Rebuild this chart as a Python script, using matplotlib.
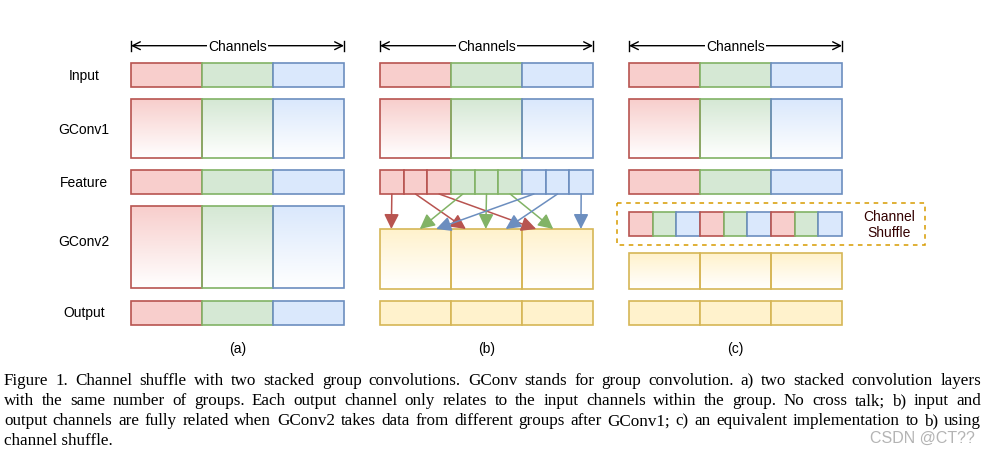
import numpy as np
import matplotlib
matplotlib.use("Agg")
import matplotlib.pyplot as plt
from matplotlib.patches import Rectangle
from matplotlib.colors import to_rgb

# --- content -------------------------------------------------------------
row_labels = ["Input", "GConv1", "Feature", "GConv2", "Output"]
panel_labels = ["(a)", "(b)", "(c)"]
group_fill = ["#f8cecc", "#d5e8d4", "#dae8fc"]     # red, green, blue groups
group_edge = ["#b85450", "#82b366", "#6c8ebf"]
yellow_fill, yellow_edge = "#fff2cc", "#d6b656"
shuffle_order = [0, 1, 2, 0, 1, 2, 0, 1, 2]         # channel groups after shuffle
# (b) cross connections: source sub-channel -> (target group, position inside group)
arrow_src = [0, 1, 2, 3, 4, 5, 6, 7, 8]
arrow_dst_group = [0, 1, 2, 0, 1, 2, 0, 1, 2]
arrow_dst_frac = [0.16, 0.21, 0.20, 0.56, 0.49, 0.44, 0.79, 0.77, 0.83]
caption = [
    "Figure 1. Channel shuffle with two stacked group convolutions.  GConv stands for group convolution.  a) two stacked convolution layers",
    "with the same number of groups.  Each output channel only relates to the input channels within the group.  No cross talk; b) input and",
    "output channels are fully related when GConv2 takes data from different groups after GConv1; c) an equivalent implementation to b) using",
    "channel shuffle.",
]

# --- layout (pixels) -----------------------------------------------------
W, H = 987, 456
panel_x = [131, 380, 629]
panel_w = 213
rows = {"Input": (64, 88), "GConv1": (100, 159), "Feature": (171, 195),
        "GConv2": (207, 289), "Output": (302, 326)}
sans = ["Liberation Sans", "DejaVu Sans"]

fig = plt.figure(figsize=(W / 100, H / 100), dpi=100)
ax = fig.add_axes([0, 0, 1, 1])
ax.set_xlim(0, W)
ax.set_ylim(H, 0)
ax.axis("off")


def box(x, y0, y1, w, fill, edge, grad=False):
    if grad:
        c = np.array(to_rgb(fill))
        t = np.linspace(0, 1, 64)[:, None, None]
        img = c * (1 - t) + np.ones(3) * t
        img = np.repeat(img, 2, axis=1)
        ax.imshow(img, extent=(x, x + w, y1, y0), aspect="auto", zorder=1,
                  interpolation="bilinear")
        ax.add_patch(Rectangle((x, y0), w, y1 - y0, fill=False, ec=edge, lw=1.2, zorder=3))
    else:
        ax.add_patch(Rectangle((x, y0), w, y1 - y0, fc=fill, ec=edge, lw=1.2, zorder=3))


def group_row(px, name, grad=False, fills=group_fill, edges=group_edge):
    y0, y1 = rows[name]
    gw = panel_w / 3
    for g in range(3):
        box(px + g * gw, y0, y1, gw, fills[g], edges[g], grad)


for k, px in enumerate(panel_x):
    # channels dimension arrow
    ya = 46.7
    ax.annotate("", xy=(px, ya), xytext=(px + panel_w, ya),
                arrowprops=dict(arrowstyle="<->", lw=1, color="black",
                                mutation_scale=14, shrinkA=0, shrinkB=0))
    ax.plot([px, px], [ya - 5, ya + 5], color="black", lw=1)
    ax.plot([px + panel_w, px + panel_w], [ya - 5, ya + 5], color="black", lw=1)
    ax.text(px + panel_w / 2, ya, "Channels", ha="center", va="center", fontsize=10,
            family=sans, bbox=dict(fc="white", ec="none", pad=0.5))
    ax.text(px + panel_w / 2, 349, panel_labels[k], ha="center", va="center",
            fontsize=10, family=sans)

    group_row(px, "Input")
    group_row(px, "GConv1", grad=True)

    if k == 0:
        group_row(px, "Feature")
        group_row(px, "GConv2", grad=True)
        group_row(px, "Output")
    elif k == 1:
        y0, y1 = rows["Feature"]
        sw = panel_w / 9
        for i in range(9):
            g = i // 3
            box(px + i * sw, y0, y1, sw, group_fill[g], group_edge[g])
        gy0, gy1 = 230, 290
        for g in range(3):
            box(px + g * panel_w / 3, gy0, gy1, panel_w / 3, yellow_fill, yellow_edge, True)
        for s, dg, fr in zip(arrow_src, arrow_dst_group, arrow_dst_frac):
            x0 = px + (s + 0.5) * sw
            x1 = px + (dg + fr) * panel_w / 3
            col = group_edge[s // 3]
            ax.annotate("", xy=(x1, gy0), xytext=(x0, y1),
                        arrowprops=dict(arrowstyle="-|>,head_length=0.6,head_width=0.3",
                                        lw=1.1, color=col,
                                        mutation_scale=15, shrinkA=0, shrinkB=0),
                        zorder=4)
        y0, y1 = rows["Output"]
        for g in range(3):
            box(px + g * panel_w / 3, y0, y1, panel_w / 3, yellow_fill, yellow_edge)
    else:
        group_row(px, "Feature")
        sy0, sy1 = 212.7, 236.7
        sw = panel_w / 9
        for i, g in enumerate(shuffle_order):
            box(px + i * sw, sy0, sy1, sw, group_fill[g], group_edge[g])
        ax.add_patch(Rectangle((616.7, 204.3), 925 - 616.7, 246 - 204.3, fill=False,
                               ec="#d79b00", lw=1.1, ls=(0, (3, 3)), zorder=3))
        ax.text(889, 225, "Channel\nShuffle", ha="center", va="center", fontsize=10,
                family=sans, color="#330000", linespacing=1.2)
        gy0, gy1 = 254.3, 290
        for g in range(3):
            box(px + g * panel_w / 3, gy0, gy1, panel_w / 3, yellow_fill, yellow_edge, True)
        y0, y1 = rows["Output"]
        for g in range(3):
            box(px + g * panel_w / 3, y0, y1, panel_w / 3, yellow_fill, yellow_edge)

label_y = {"Input": 76, "GConv1": 130, "Feature": 183, "GConv2": 242, "Output": 313}
for name in row_labels:
    ax.text(84, label_y[name], name, ha="center", va="center", fontsize=10, family=sans)

# --- caption, justified --------------------------------------------------
fig.canvas.draw()
r = fig.canvas.get_renderer()
serif = ["Liberation Serif", "DejaVu Serif"]


def tw(s, fs):
    t = ax.text(0, 0, s, fontsize=fs, family=serif)
    w = t.get_window_extent(r).width
    t.remove()
    return w


x_left, x_right = 4, 981
fs = 12.5
nat = max(tw(l, fs) for l in caption[:3])
if nat > (x_right - x_left) * 0.97:
    fs = fs * (x_right - x_left) * 0.97 / nat
cap_base = [385.5, 405.5, 425.5, 445.5]
for line, yy in zip(caption, cap_base):
    words = line.split()
    if line is caption[-1]:
        ax.text(x_left, yy, line, fontsize=fs, family=serif, va="baseline", ha="left")
        continue
    ws = [tw(w_, fs) for w_ in words]
    gap = (x_right - x_left - sum(ws)) / (len(words) - 1)
    x = x_left
    for w_, wd in zip(words, ws):
        ax.text(x, yy, w_, fontsize=fs, family=serif, va="baseline", ha="left")
        x += wd + gap

ax.text(975, 438, "CSDN @CT??", ha="right", va="center", fontsize=11.5,
        family=sans, color="#b4b4b4")

fig.savefig("out.png", dpi=100)
